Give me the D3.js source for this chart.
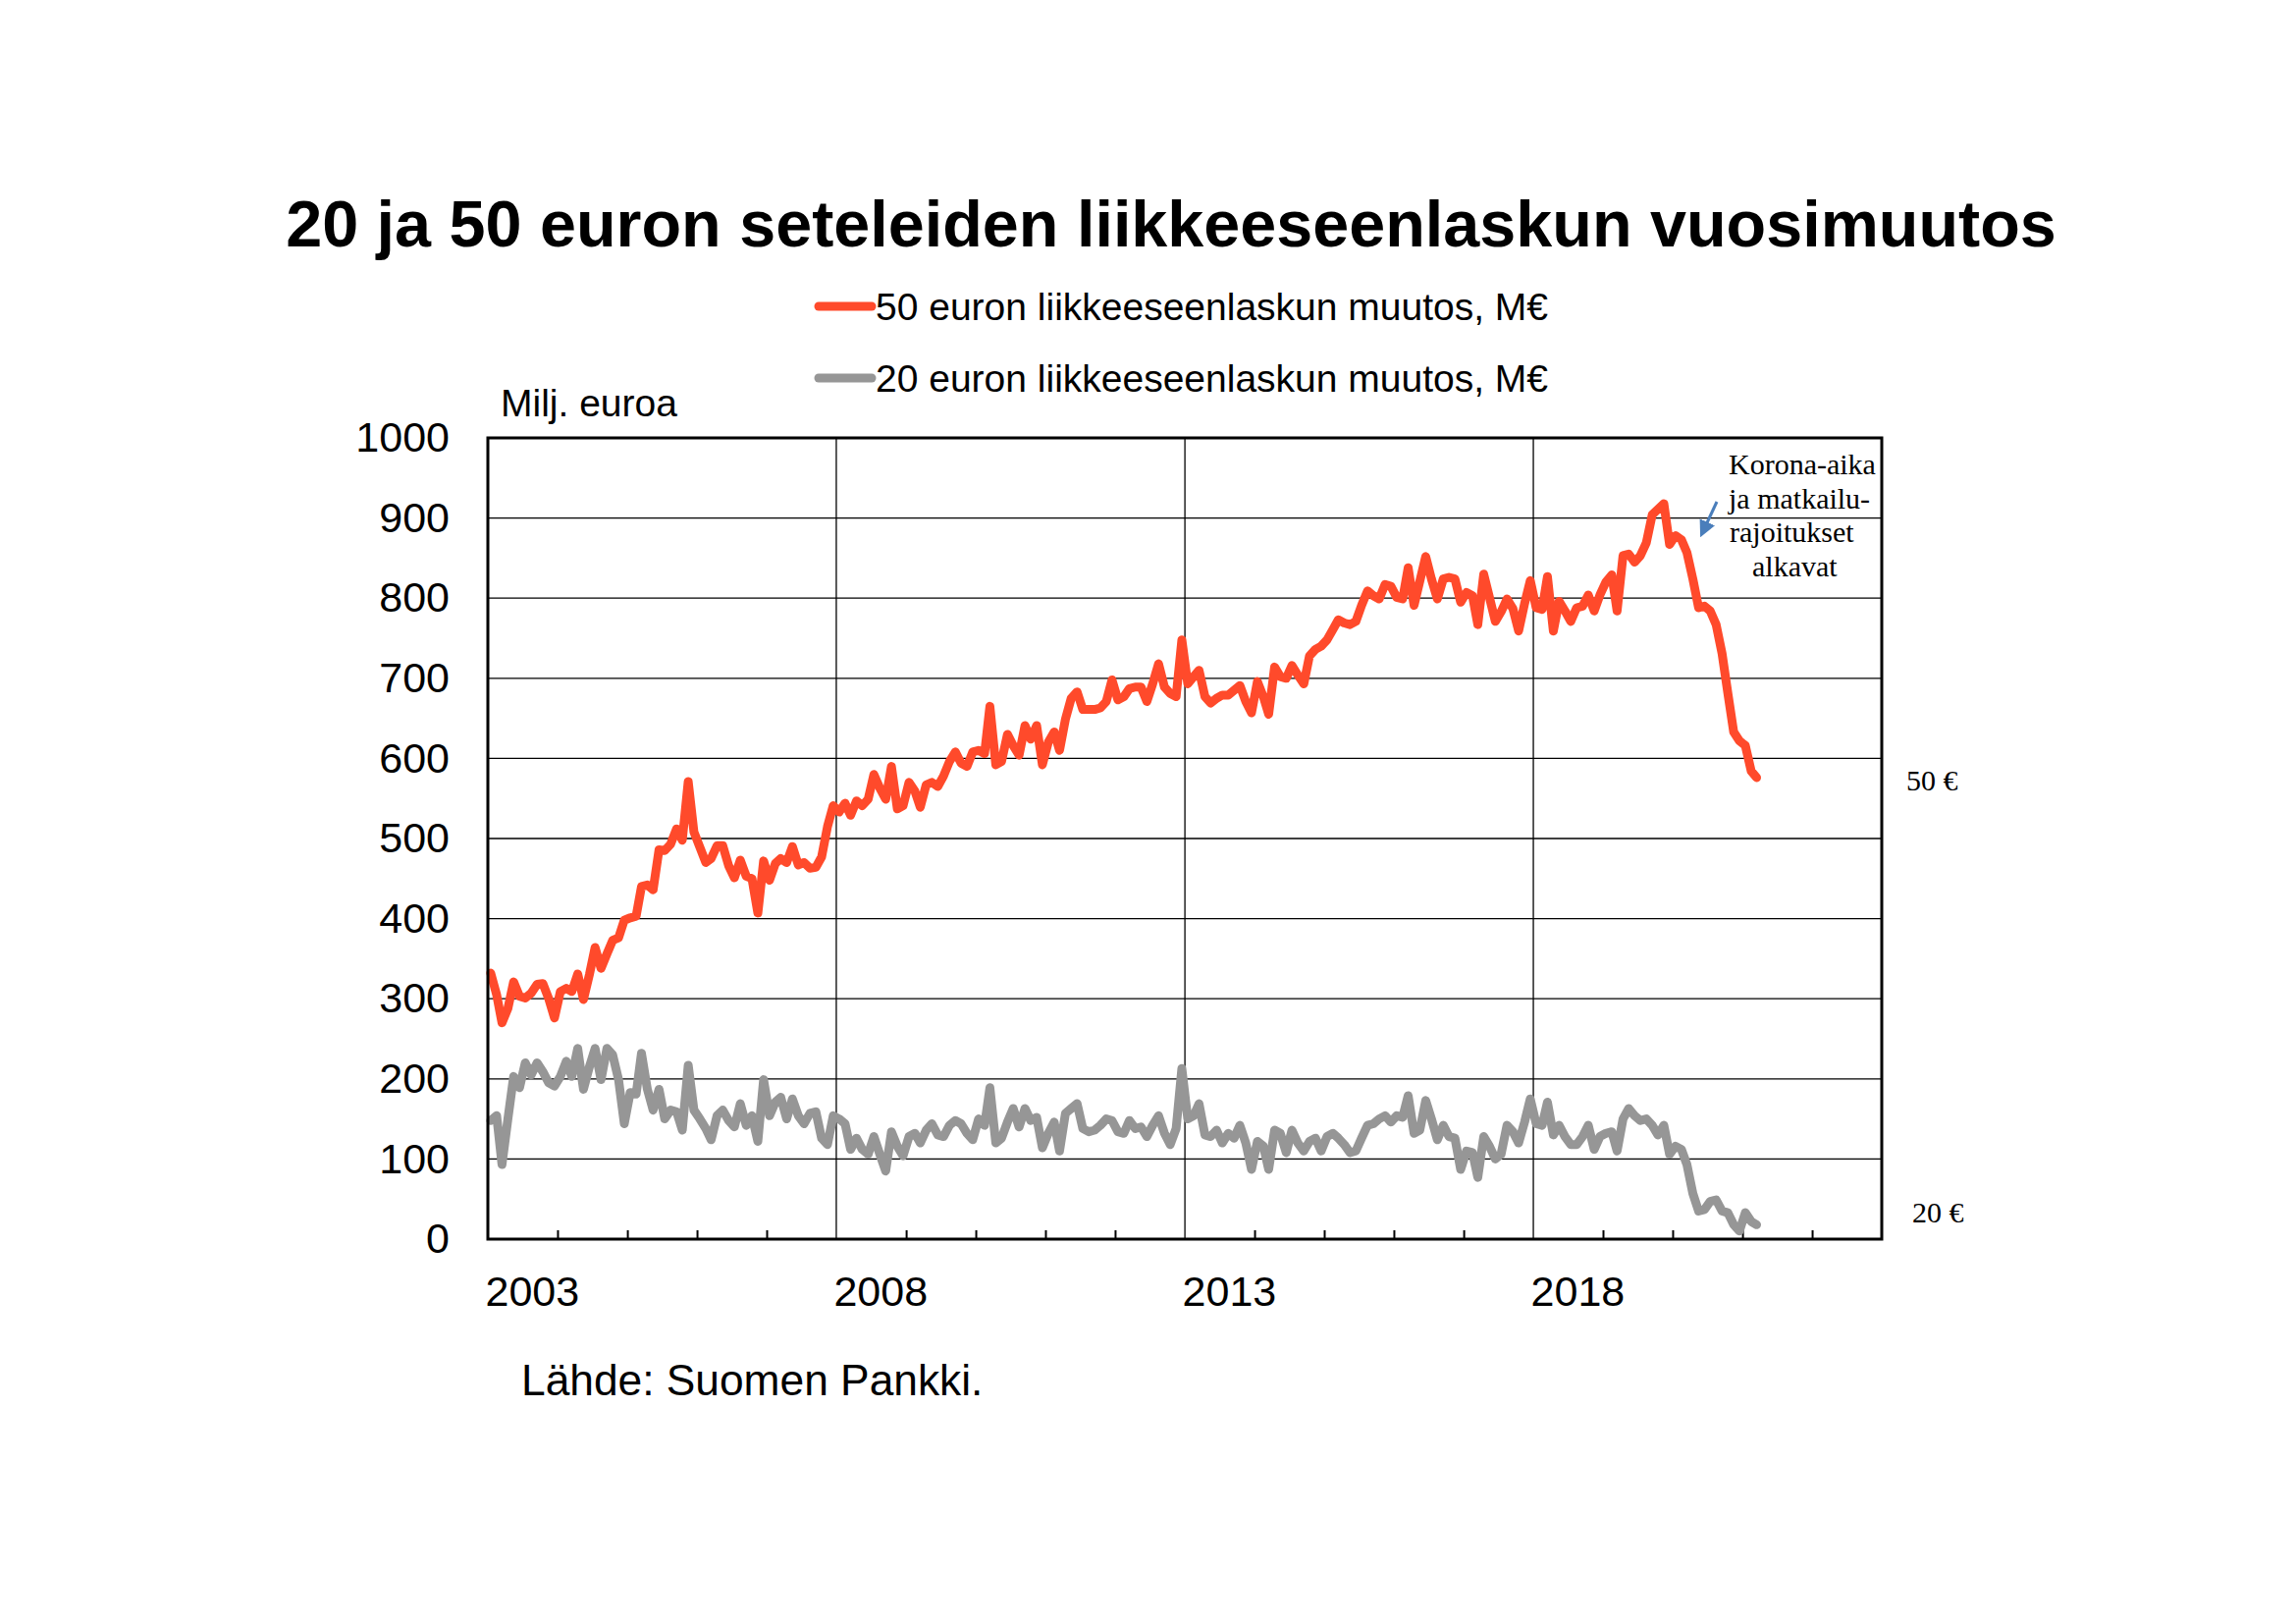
<!DOCTYPE html>
<html>
<head>
<meta charset="utf-8">
<script src="https://cdn.jsdelivr.net/npm/d3@7"></script>
<style>
  html, body { margin: 0; padding: 0; background: #ffffff; }
  svg { display: block; }
</style>
</head>
<body>
<div id="chart"></div>
<script>
// ---------------- DATA ----------------
const startYear = 2003;           // first month: January 2003, monthly data
const seriesNames = ["50 euron liikkeeseenlaskun muutos, M€", "20 euron liikkeeseenlaskun muutos, M€"];
const fifty = [
  332, 305, 270, 288, 321, 303, 301, 307, 318, 319,
  300, 276, 309, 313, 309, 331, 299, 330, 364, 338,
  356, 373, 376, 398, 401, 403, 440, 442, 436, 486,
  485, 493, 512, 498, 571, 508, 489, 470, 475, 491,
  491, 466, 451, 473, 453, 450, 407, 472, 448, 469,
  475, 470, 490, 467, 470, 463, 464, 477, 515, 541,
  533, 544, 529, 547, 541, 549, 580, 563, 549, 590,
  537, 541, 570, 559, 539, 567, 570, 565, 578, 596,
  608, 594, 590, 608, 610, 606, 665, 592, 596, 630,
  616, 604, 641, 624, 641, 592, 620, 633, 610, 649,
  675, 683, 661, 661, 661, 663, 671, 698, 673, 677,
  687, 689, 689, 671, 693, 718, 689, 681, 677, 748,
  693, 702, 710, 677, 669, 675, 679, 679, 685, 691,
  671, 657, 696, 677, 655, 714, 702, 700, 716, 704,
  693, 728, 736, 740, 748, 761, 773, 769, 767, 771,
  791, 809, 803, 799, 817, 815, 801, 799, 838, 791,
  821, 852, 824, 799, 824, 826, 824, 795, 807, 803,
  767, 830, 801, 771, 783, 799, 787, 759, 793, 822,
  788, 786, 827, 759, 796, 784, 771, 788, 790, 804,
  784, 804, 820, 829, 784, 853, 855, 845, 853, 869,
  904, 911, 918, 867, 878, 873, 857, 824, 788, 790,
  784, 767, 731, 682, 633, 622, 616, 584, 576
];
const twenty = [
  148, 154, 93, 150, 203, 189, 220, 205, 220, 209,
  195, 191, 203, 222, 203, 238, 187, 215, 238, 199,
  238, 230, 199, 144, 183, 181, 232, 187, 161, 187,
  150, 161, 159, 136, 217, 161, 150, 138, 124, 154,
  161, 148, 140, 169, 142, 154, 122, 199, 154, 171,
  177, 150, 175, 154, 144, 157, 159, 126, 118, 154,
  150, 144, 112, 126, 112, 106, 128, 106, 85, 134,
  116, 104, 128, 132, 120, 136, 144, 130, 128, 142,
  148, 144, 132, 124, 150, 142, 189, 120, 126, 146,
  163, 140, 163, 148, 152, 114, 132, 146, 110, 157,
  163, 169, 138, 134, 136, 142, 150, 148, 134, 132,
  148, 138, 140, 128, 142, 154, 132, 118, 138, 213,
  150, 154, 169, 130, 128, 136, 120, 132, 126, 142,
  120, 87, 122, 116, 87, 136, 132, 108, 136, 120,
  110, 122, 126, 110, 128, 132, 126, 118, 108, 110,
  126, 142, 144, 150, 154, 146, 154, 152, 179, 132,
  136, 173, 150, 124, 142, 128, 126, 87, 110, 108,
  77, 128, 116, 100, 106, 142, 134, 120, 146, 175,
  144, 142, 171, 130, 142, 128, 118, 118, 128, 142,
  112, 128, 132, 134, 110, 150, 163, 154, 148, 150,
  142, 130, 142, 106, 116, 112, 93, 57, 35, 37,
  47, 49, 35, 33, 18, 10, 33, 22, 18
];
const yTicks = [0, 100, 200, 300, 400, 500, 600, 700, 800, 900, 1000];
const xLabelYears = [2003, 2008, 2013, 2018];
const xMinorYears = [2004, 2005, 2006, 2007, 2009, 2010, 2011, 2012, 2014, 2015, 2016, 2017, 2019, 2020, 2021, 2022];
const xGridYears = [2008, 2013, 2018];
const titleText = "20 ja 50 euron seteleiden liikkeeseenlaskun vuosimuutos";
const yUnitText = "Milj. euroa";
const sourceText = "Lähde: Suomen Pankki.";
const noteLines = ["Korona-aika", "ja matkailu-", "rajoitukset", "alkavat"];
const endLabels = ["50 €", "20 €"];

// ---------------- LAYOUT ----------------
const W = 2339, H = 1654;
const plot = { left: 497, right: 1917, top: 446, bottom: 1262 };
const RED = "#FF4A2B", GREY = "#969696";
const SANS = "'Liberation Sans', Arial, sans-serif";
const SERIF = "'Liberation Serif', 'Times New Roman', serif";

const svg = d3.select("#chart").append("svg")
  .attr("width", W).attr("height", H)
  .attr("viewBox", `0 0 ${W} ${H}`);
svg.append("rect").attr("width", W).attr("height", H).attr("fill", "#fff");

const x = d3.scaleTime()
  .domain([new Date(2003, 0, 1), new Date(2023, 0, 1)])
  .range([plot.left, plot.right]);
const y = d3.scaleLinear().domain([0, 1000]).range([plot.bottom, plot.top]);

const monthDate = i => new Date(startYear, i, 16);
const yearDate = yr => new Date(yr, 0, 1);

// horizontal gridlines
svg.append("g").selectAll("line").data(yTicks.filter(t => t > 0 && t < 1000)).join("line")
  .attr("x1", plot.left).attr("x2", plot.right)
  .attr("y1", d => y(d)).attr("y2", d => y(d))
  .attr("stroke", "#000").attr("stroke-width", 1.3);

// vertical gridlines
svg.append("g").selectAll("line").data(xGridYears).join("line")
  .attr("x1", d => x(yearDate(d))).attr("x2", d => x(yearDate(d)))
  .attr("y1", plot.top).attr("y2", plot.bottom)
  .attr("stroke", "#000").attr("stroke-width", 1.3);

// minor yearly ticks (inward, bottom axis)
const minorAxis = d3.axisBottom(x).tickValues(xMinorYears.map(yearDate))
  .tickSizeInner(-9).tickSizeOuter(0).tickFormat("");
const gMinor = svg.append("g").attr("transform", `translate(0,${plot.bottom})`).call(minorAxis);
gMinor.select(".domain").remove();
gMinor.selectAll("line").attr("stroke", "#000").attr("stroke-width", 2);

// lines
const line = d3.line()
  .x((d, i) => x(monthDate(i)))
  .y(d => y(d));

svg.append("path").datum(twenty)
  .attr("d", line).attr("fill", "none")
  .attr("stroke", GREY).attr("stroke-width", 9)
  .attr("stroke-linejoin", "round").attr("stroke-linecap", "round");
svg.append("path").datum(fifty)
  .attr("d", line).attr("fill", "none")
  .attr("stroke", RED).attr("stroke-width", 9)
  .attr("stroke-linejoin", "round").attr("stroke-linecap", "round");

// plot frame
svg.append("rect")
  .attr("x", plot.left).attr("y", plot.top)
  .attr("width", plot.right - plot.left).attr("height", plot.bottom - plot.top)
  .attr("fill", "none").attr("stroke", "#000").attr("stroke-width", 3);

// y axis labels
const yAxis = d3.axisLeft(y).tickValues(yTicks).tickSize(0).tickPadding(39).tickFormat(d3.format("d"));
const gy = svg.append("g").attr("transform", `translate(${plot.left},0)`).call(yAxis);
gy.select(".domain").remove();
gy.selectAll("text").attr("font-family", SANS).attr("font-size", 43).attr("fill", "#000");

// x axis labels (left-aligned at the year line)
const xAxis = d3.axisBottom(x).tickValues(xLabelYears.map(yearDate)).tickSize(0).tickPadding(37)
  .tickFormat(d3.timeFormat("%Y"));
const gx = svg.append("g").attr("transform", `translate(0,${plot.bottom})`).call(xAxis);
gx.select(".domain").remove();
gx.selectAll("text").attr("font-family", SANS).attr("font-size", 43).attr("fill", "#000")
  .attr("text-anchor", "start").attr("dx", -3);

// title
svg.append("text").attr("x", 1193).attr("y", 251).attr("text-anchor", "middle")
  .attr("font-family", SANS).attr("font-weight", "bold").attr("font-size", 66.5)
  .attr("fill", "#000").text(titleText);

// legend
const legendRows = [{ name: seriesNames[0], color: RED, y: 312 }, { name: seriesNames[1], color: GREY, y: 385 }];
const lg = svg.append("g").selectAll("g").data(legendRows).join("g");
lg.append("line").attr("x1", 834).attr("x2", 888).attr("y1", d => d.y).attr("y2", d => d.y)
  .attr("stroke", d => d.color).attr("stroke-width", 9).attr("stroke-linecap", "round");
lg.append("text").attr("x", 892).attr("y", d => d.y + 14)
  .attr("font-family", SANS).attr("font-size", 39).attr("fill", "#000").text(d => d.name);

// unit label
svg.append("text").attr("x", 510).attr("y", 424)
  .attr("font-family", SANS).attr("font-size", 39).attr("fill", "#000").text(yUnitText);

// source
svg.append("text").attr("x", 531).attr("y", 1421)
  .attr("font-family", SANS).attr("font-size", 44.3).attr("fill", "#000").text(sourceText);

// annotation
const noteX = [1761, 1761, 1762, 1785];
const noteG = svg.append("g");
noteLines.forEach((t, i) => {
  noteG.append("text").attr("x", noteX[i]).attr("y", 483 + i * 34.7)
    .attr("font-family", SERIF).attr("font-size", 30).attr("fill", "#000").text(t);
});
// arrow
const ARROW = "#4A7EBB";
const defs = svg.append("defs");
defs.append("marker").attr("id", "arrowhead").attr("viewBox", "0 0 10 10")
  .attr("refX", 6).attr("refY", 5)
  .attr("markerUnits", "userSpaceOnUse").attr("markerWidth", 17).attr("markerHeight", 17)
  .attr("orient", "auto")
  .append("path").attr("d", "M0,0 L10,5 L0,10 z").attr("fill", ARROW);
svg.append("line").attr("x1", 1749).attr("y1", 511).attr("x2", 1735).attr("y2", 541)
  .attr("stroke", ARROW).attr("stroke-width", 3).attr("marker-end", "url(#arrowhead)");

// series end labels
svg.append("text").attr("x", 1942).attr("y", 805)
  .attr("font-family", SERIF).attr("font-size", 30).attr("fill", "#000").text(endLabels[0]);
svg.append("text").attr("x", 1948).attr("y", 1245)
  .attr("font-family", SERIF).attr("font-size", 30).attr("fill", "#000").text(endLabels[1]);
</script>
</body>
</html>
